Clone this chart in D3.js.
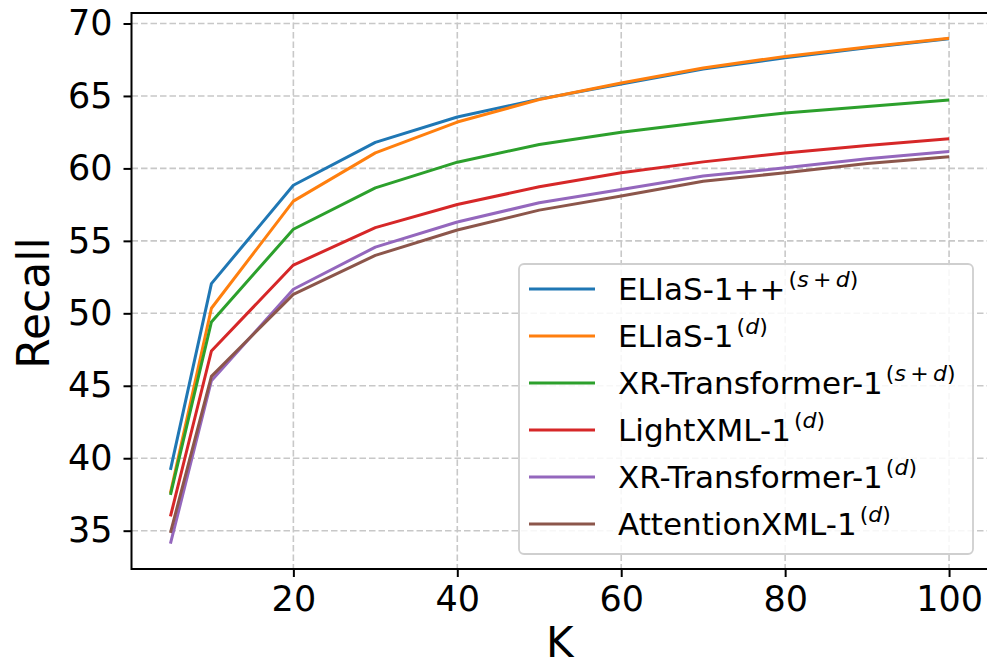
<!DOCTYPE html>
<html>
<head>
<meta charset="utf-8">
<script src="https://cdn.jsdelivr.net/npm/d3@7"></script>
<style>
  body { margin: 0; background: #fff; }
  svg { display: block; font-family: "DejaVu Sans", sans-serif; }
</style>
</head>
<body>
<div id="chart"></div>
<script>
// Data
var kValues = [5, 10, 20, 30, 40, 50, 60, 70, 80, 90, 100];
var eliasPP_sd = [39.2, 52.05, 58.84, 61.8, 63.55, 64.78, 65.82, 66.85, 67.64, 68.32, 68.95];
var elias_d = [37.6, 50.35, 57.74, 61.07, 63.2, 64.75, 65.9, 66.93, 67.73, 68.37, 68.98];
var xrTransformer_sd = [37.47, 49.4, 55.8, 58.66, 60.43, 61.65, 62.5, 63.18, 63.83, 64.28, 64.72];
var lightXML_d = [35.98, 47.4, 53.33, 55.91, 57.51, 58.73, 59.7, 60.45, 61.07, 61.58, 62.04];
var xrTransformer_d = [34.1, 45.35, 51.66, 54.57, 56.3, 57.63, 58.55, 59.47, 60.04, 60.66, 61.16];
var attentionXML_d = [34.85, 45.65, 51.31, 54.0, 55.75, 57.12, 58.1, 59.12, 59.7, 60.34, 60.8];

var seriesNames = ["ELIaS-1++", "ELIaS-1", "XR-Transformer-1", "LightXML-1", "XR-Transformer-1", "AttentionXML-1"];
var seriesSups = ["s+d", "d", "s+d", "d", "d", "d"];
var seriesValues = [eliasPP_sd, elias_d, xrTransformer_sd, lightXML_d, xrTransformer_d, attentionXML_d];
var xTicks = [20, 40, 60, 80, 100];
var yTicks = [35, 40, 45, 50, 55, 60, 65, 70];

var colors = ["#1f77b4", "#ff7f0e", "#2ca02c", "#d62728", "#9467bd", "#8c564b"];

var width = 987, height = 668;
var margin = { top: 13, right: -1, bottom: 99, left: 131.5 };
var plotW = width - margin.left - margin.right;
var plotH = height - margin.top - margin.bottom;

// matplotlib-like 5% padding around the data
var xExt = d3.extent(kValues);
var xPad = (xExt[1] - xExt[0]) * 0.05;
var allY = d3.merge(seriesValues);
var yExt = d3.extent(allY);
var yPad = (yExt[1] - yExt[0]) * 0.05;

var x = d3.scaleLinear()
    .domain([xExt[0] - xPad, xExt[1] + xPad])
    .range([0, plotW]);

var y = d3.scaleLinear()
    .domain([yExt[0] - yPad, yExt[1] + yPad])
    .range([plotH, 0]);

var svg = d3.select("#chart").append("svg")
    .attr("width", width)
    .attr("height", height);

var g = svg.append("g")
    .attr("transform", "translate(" + margin.left + "," + margin.top + ")");

// Grid
g.append("g").selectAll("line")
    .data(xTicks)
    .enter().append("line")
    .attr("x1", d => x(d)).attr("x2", d => x(d))
    .attr("y1", 0).attr("y2", plotH)
    .attr("stroke", "#c8c8c8")
    .attr("stroke-width", 1.6)
    .attr("stroke-dasharray", "6.5,3");

g.append("g").selectAll("line")
    .data(yTicks)
    .enter().append("line")
    .attr("x1", 0).attr("x2", plotW)
    .attr("y1", d => y(d)).attr("y2", d => y(d))
    .attr("stroke", "#c8c8c8")
    .attr("stroke-width", 1.6)
    .attr("stroke-dasharray", "6.5,3");

// Series lines
var line = d3.line()
    .x((d, i) => x(kValues[i]))
    .y(d => y(d));

g.selectAll(".series")
    .data(seriesValues)
    .enter().append("path")
    .attr("class", "series")
    .attr("d", d => line(d))
    .attr("fill", "none")
    .attr("stroke", (d, i) => colors[i])
    .attr("stroke-width", 3)
    .attr("stroke-linejoin", "round");

// Axes
var xAxis = d3.axisBottom(x)
    .tickValues(xTicks)
    .tickSize(8)
    .tickPadding(9)
    .tickSizeOuter(0);

var yAxis = d3.axisLeft(y)
    .tickValues(yTicks)
    .tickSize(8)
    .tickPadding(11)
    .tickSizeOuter(0);

var gx = g.append("g")
    .attr("transform", "translate(0," + plotH + ")")
    .call(xAxis);

var gy = g.append("g")
    .call(yAxis);

[gx, gy].forEach(function (a) {
    a.select(".domain").remove();
    a.selectAll(".tick line").attr("stroke", "#000").attr("stroke-width", 2);
    a.selectAll(".tick text")
        .attr("fill", "#000")
        .style("font-family", "DejaVu Sans")
        .style("font-size", "35px");
});

// Spines
g.append("rect")
    .attr("x", 0).attr("y", 0)
    .attr("width", plotW).attr("height", plotH)
    .attr("fill", "none")
    .attr("stroke", "#000")
    .attr("stroke-width", 2);

// Axis labels
svg.append("text")
    .attr("x", margin.left + plotW / 2)
    .attr("y", 657)
    .attr("text-anchor", "middle")
    .style("font-size", "42px")
    .text("K");

svg.append("text")
    .attr("transform", "translate(49," + (margin.top + plotH / 2 + 12) + ") rotate(-90)")
    .attr("text-anchor", "middle")
    .style("font-size", "44px")
    .text("Recall");

// Legend
var legend = svg.append("g")
    .attr("transform", "translate(519,264)");

legend.append("rect")
    .attr("width", 454)
    .attr("height", 290)
    .attr("rx", 5)
    .attr("fill", "#fff")
    .attr("fill-opacity", 0.85)
    .attr("stroke", "#cfcfcf")
    .attr("stroke-width", 1.8);

var item = legend.selectAll(".item")
    .data(seriesNames)
    .enter().append("g")
    .attr("class", "item")
    .attr("transform", (d, i) => "translate(0," + (25 + i * 47) + ")");

item.append("line")
    .attr("x1", 10).attr("x2", 76)
    .attr("stroke", (d, i) => colors[i])
    .attr("stroke-width", 3);

var label = item.append("text")
    .attr("x", 99)
    .attr("y", 11)
    .style("font-size", "31px");

label.append("tspan").text(d => d);

label.each(function (d, i) {
    var t = d3.select(this);
    var sup = seriesSups[i];
    t.append("tspan").attr("dx", 3).attr("dy", -13).style("font-size", "22px").text("(");
    if (sup === "s+d") {
        t.append("tspan").style("font-size", "22px").style("font-style", "italic").text("s");
        t.append("tspan").style("font-size", "22px").text("\u2009+\u2009");
    }
    t.append("tspan").style("font-size", "22px").style("font-style", "italic").text("d");
    t.append("tspan").style("font-size", "22px").text(")");
});
</script>
</body>
</html>
